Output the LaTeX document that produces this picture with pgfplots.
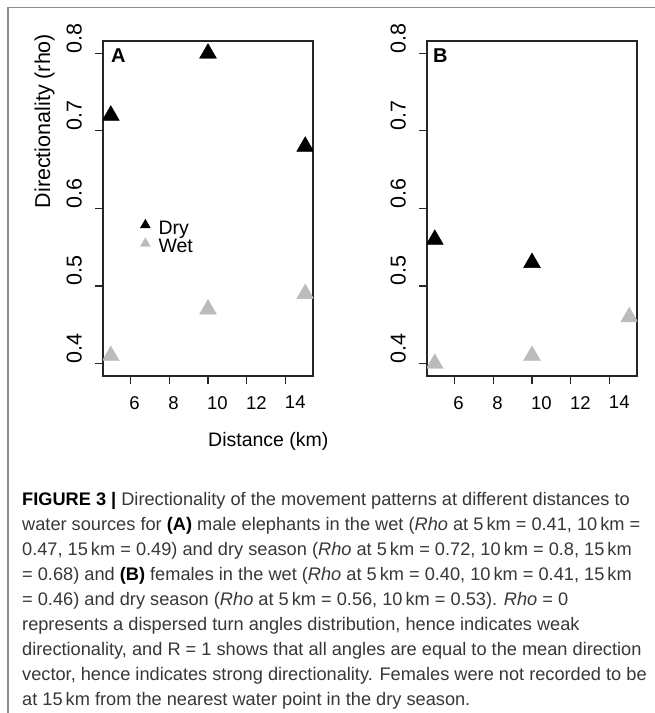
\documentclass[border=0pt]{standalone}
\usepackage{fontspec}
\setmainfont{Liberation Sans}
\usepackage{pgfplots}
\usepackage{pgfplotstable}
\pgfplotsset{compat=1.18}

\definecolor{wetgray}{RGB}{187,187,187}
\definecolor{framegray}{RGB}{140,140,140}
\definecolor{captxt}{RGB}{55,55,55}

% rho by distance to water (km)
\pgfplotstableread{
dist rho
5  0.72
10 0.80
15 0.68
}\maledry
\pgfplotstableread{
dist rho
5  0.41
10 0.47
15 0.49
}\malewet
\pgfplotstableread{
dist rho
5  0.56
10 0.53
}\femaledry
\pgfplotstableread{
dist rho
5  0.40
10 0.41
15 0.46
}\femalewet

\pgfplotsset{
  panel/.style={
    scale only axis, width=210bp, height=335bp,
    xmin=4.6, xmax=15.4, ymin=0.384, ymax=0.816,
    axis line style={line width=1.1bp, color=black!85},
    xtick={6,8,10,12,14}, ytick={0.4,0.5,0.6,0.7,0.8},
    yticklabels={0.4,0.5,0.6,0.7,0.8},
    tick align=outside, xtick pos=bottom, ytick pos=left,
    major tick length=8bp,
    every tick/.style={line width=1.1bp, color=black!85},
    /pgf/number format/assume math mode=true,
    xticklabel style={anchor=north west, inner sep=0pt, yshift=-12bp, xshift=-1bp,
      font=\fontsize{18.5bp}{20bp}\selectfont},
    yticklabel style={xshift=-13bp, rotate=90, anchor=south west, inner sep=0pt,
      font=\fontsize{21.5bp}{22bp}\selectfont},
    clip marker paths=true,
  },
  dry/.style={only marks, mark=triangle*, mark size=9.8bp, color=black},
  wet/.style={only marks, mark=triangle*, mark size=9.8bp, color=wetgray},
}

\begin{document}
\begin{tikzpicture}[x=1bp, y=1bp]
% frame
\draw[framegray, line width=1.5bp] (8,0) -- (8,705.7) -- (655,705.7);

% panel A: males
\begin{axis}[panel, at={(103bp,337bp)}, anchor=south west,
  legend style={at={(axis description cs:0.176,0.463)}, anchor=north west,
    draw=none, fill=none, inner sep=0pt, column sep=8bp, row sep=0.5bp,
    font=\fontsize{19.5bp}{18bp}\selectfont,
    nodes={inner sep=0pt, text height=13bp, text depth=5bp}},
  legend cell align=left,
  legend image code/.code={%
    \draw[#1, mark size=5.8bp, overlay] plot coordinates {(0bp,5bp)};
    \path (-5bp,0bp) (5bp,0bp);},
]
\addplot[dry] table[x=dist, y=rho] {\maledry};
\addplot[wet] table[x=dist, y=rho] {\malewet};
\legend{Dry, Wet}
\end{axis}

% panel B: females
\begin{axis}[panel, at={(427bp,337bp)}, anchor=south west]
\addplot[dry] table[x=dist, y=rho] {\femaledry};
\addplot[wet] table[x=dist, y=rho] {\femalewet};
\end{axis}

% panel letters and axis titles
\node[anchor=base west, inner sep=0pt, font=\fontsize{20bp}{20bp}\selectfont\bfseries] at (111,650) {A};
\node[anchor=base west, inner sep=0pt, font=\fontsize{20bp}{20bp}\selectfont\bfseries] at (433,650) {B};
\node[rotate=90, anchor=base west, inner sep=0pt, font=\fontsize{21.5bp}{22bp}\selectfont] at (50,504.5) {Directionality (rho)};
\node[anchor=base west, inner sep=0pt, font=\fontsize{19.5bp}{20bp}\selectfont] at (208,266) {Distance (km)};

% caption
\begin{scope}[every node/.style={anchor=base west, inner sep=0pt, text=captxt, font=\fontsize{18.2bp}{20bp}\selectfont}]
\node at (22,207) {\textcolor{black}{\textbf{FIGURE 3 |}} Directionality of the movement patterns at different distances to};
\node at (22,182) {water sources for \textcolor{black}{\textbf{(A)}} male elephants in the wet (\textit{Rho} at 5\,km = 0.41, 10\,km =};
\node at (22,157) {0.47, 15\,km = 0.49) and dry season (\textit{Rho} at 5\,km = 0.72, 10\,km = 0.8, 15\,km};
\node at (22,132) {= 0.68) and \textcolor{black}{\textbf{(B)}} females in the wet (\textit{Rho} at 5\,km = 0.40, 10\,km = 0.41, 15\,km};
\node at (22,107) {= 0.46) and dry season (\textit{Rho} at 5\,km = 0.56, 10\,km = 0.53). \textit{Rho} = 0};
\node at (22,82) {represents a dispersed turn angles distribution, hence indicates weak};
\node at (22,57) {directionality, and R = 1 shows that all angles are equal to the mean direction};
\node at (22,32) {vector, hence indicates strong directionality. Females were not recorded to be};
\node at (22,7) {at 15\,km from the nearest water point in the dry season.};
\end{scope}

\pgfresetboundingbox
\path (0,0) rectangle (655,713);
\end{tikzpicture}
\end{document}
